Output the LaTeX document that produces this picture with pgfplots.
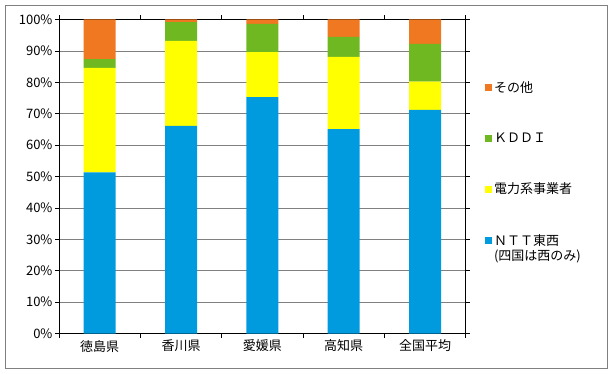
\documentclass[border=0pt]{standalone}
\usepackage{pgfplots}
\pgfplotsset{compat=1.18}
\usepackage{fontspec}
\setmainfont{Noto Sans CJK JP}
\definecolor{cNTT}{RGB}{0,155,223}
\definecolor{cPow}{RGB}{255,255,0}
\definecolor{cKDDI}{RGB}{112,184,34}
\definecolor{cOther}{RGB}{240,120,32}
\definecolor{frame}{RGB}{128,128,128}
\begin{document}
\begin{tikzpicture}[x=1pt,y=1pt]
\useasboundingbox (0,0) rectangle (613,373);
\draw[draw=frame, line width=0.8pt] (5,4.5) rectangle (607.5,368);
\begin{axis}[
  at={(59pt,39.5pt)}, anchor=south west,
  scale only axis, width=406.7pt, height=314pt,
  ybar stacked, bar width=32pt,
  xmin=-0.5, xmax=4.5, ymin=0, ymax=100,
  xtick={-0.5,0.5,1.5,2.5,3.5,4.5}, xticklabels={},
  extra x ticks={0,1,2,3,4},
  extra x tick labels={徳島県,香川県,愛媛県,高知県,全国平均},
  extra x tick style={major tick length=0pt, grid=none,
    xticklabel style={yshift=-3pt}},
  ytick={0,10,...,100},
  yticklabel={\pgfmathprintnumber{\tick}\%},
  /pgf/number format/assume math mode=true,
  tick align=outside, major tick length=4pt,
  tick style={black, line width=0.6pt},
  ymajorgrids, grid style={draw=gray, line width=0.6pt},
  axis line style={black, line width=0.6pt},
  tick label style={font=\fontsize{13}{15}\selectfont},
  yticklabel style={xshift=1pt},
  reverse legend,
  legend style={at={(rel axis cs:1.047,0.81)}, anchor=north west,
    draw=none, fill=none, font=\fontsize{13}{15}\selectfont,
    row sep=35pt, inner sep=0pt, legend cell align=left},
  legend image code/.code={\fill[#1] (0pt,-3.5pt) rectangle (7pt,3.5pt);},
]
\addplot[fill=cNTT, draw=none] coordinates {(0,51.3) (1,66.1) (2,75.3) (3,65.1) (4,71.2)};
\addplot[fill=cPow, draw=none] coordinates {(0,33.3) (1,27.1) (2,14.3) (3,23.0) (4,9.0)};
\addplot[fill=cKDDI, draw=none] coordinates {(0,2.8) (1,6.0) (2,9.0) (3,6.4) (4,12.0)};
\addplot[fill=cOther, draw=none] coordinates {(0,12.6) (1,0.8) (2,1.4) (3,5.5) (4,7.8)};
\legend{{\begin{tabular}[t]{@{}l@{}}ＮＴＴ東西\\(四国は西のみ)\end{tabular}},電力系事業者,ＫＤＤＩ,その他}
\end{axis}
\end{tikzpicture}
\end{document}
